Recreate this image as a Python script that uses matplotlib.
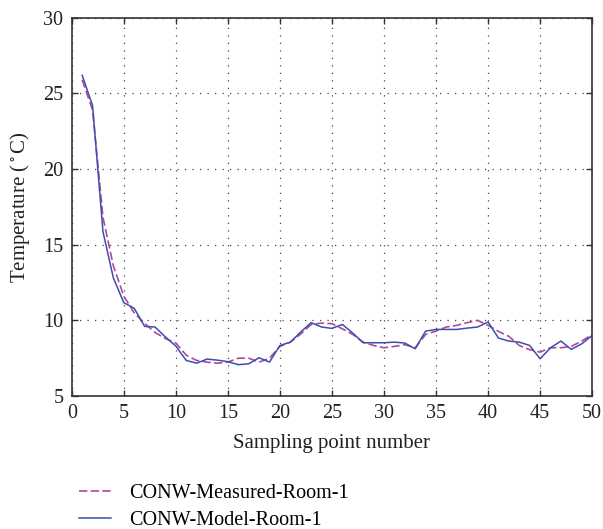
import numpy as np
import matplotlib.pyplot as plt

plt.rcParams['font.family'] = ['Liberation Serif', 'DejaVu Serif']
plt.rcParams['mathtext.fontset'] = 'stix'

x = np.arange(1, 51)
measured = [25.9, 23.9, 16.8, 13.6, 11.6, 10.5, 9.8, 9.2, 8.8, 8.5,
            7.7, 7.35, 7.24, 7.17, 7.24, 7.5, 7.5, 7.24, 7.5, 8.28,
            8.56, 9.1, 9.73, 9.82, 9.78, 9.44, 9.07, 8.56, 8.34, 8.19,
            8.28, 8.39, 8.19, 9.07, 9.29, 9.56, 9.67, 9.85, 10.0, 9.67,
            9.27, 8.94, 8.34, 8.06, 7.9, 8.19, 8.19, 8.28, 8.63, 9.07]
model = [26.2, 24.2, 15.85, 12.8, 11.17, 10.8, 9.6, 9.56, 8.9, 8.3,
         7.35, 7.17, 7.44, 7.37, 7.27, 7.07, 7.13, 7.53, 7.24, 8.34,
         8.56, 9.23, 9.85, 9.56, 9.47, 9.73, 9.16, 8.52, 8.52, 8.52,
         8.56, 8.5, 8.12, 9.29, 9.4, 9.4, 9.4, 9.49, 9.56, 9.89,
         8.83, 8.63, 8.56, 8.34, 7.46, 8.19, 8.63, 8.08, 8.45, 9.0]

fig = plt.figure(figsize=(6.03, 5.29), dpi=100)
ax = fig.add_axes([0.119, 0.2514, 0.863, 0.715])

ax.plot(x, measured, color='#b0499b', linewidth=1.2, linestyle=(0, (5, 2)),
        label='CONW-Measured-Room-1')
ax.plot(x, model, color='#3b4fae', linewidth=1.1, linestyle='-',
        label='CONW-Model-Room-1')

ax.set_xlim(0, 50)
ax.set_ylim(5, 30)
ax.set_xticks(np.arange(0, 51, 5))
ax.set_yticks(np.arange(5, 31, 5))
ax.grid(True, linestyle=(0, (1, 5)), color='#444444', linewidth=0.9)
ax.tick_params(direction='in', labelsize=14.5, length=4, width=1, pad=6,
               top=True, right=True, colors='#333333', labelcolor='#222222')
for s in ax.spines.values():
    s.set_linewidth(1.2)
    s.set_color('#333333')

ax.set_xlabel('Sampling point number', fontsize=15, color='#222222', labelpad=8)
ax.set_ylabel(r'Temperature ($^\circ$C)', fontsize=15, color='#222222', labelpad=8)

fig.legend(loc='upper left', bbox_to_anchor=(0.118, 0.1), frameon=False,
           fontsize=14.5, handlelength=1.6, handletextpad=0.9, labelspacing=0.4,
           borderaxespad=0)

fig.savefig('out.png', dpi=100, facecolor='white')
